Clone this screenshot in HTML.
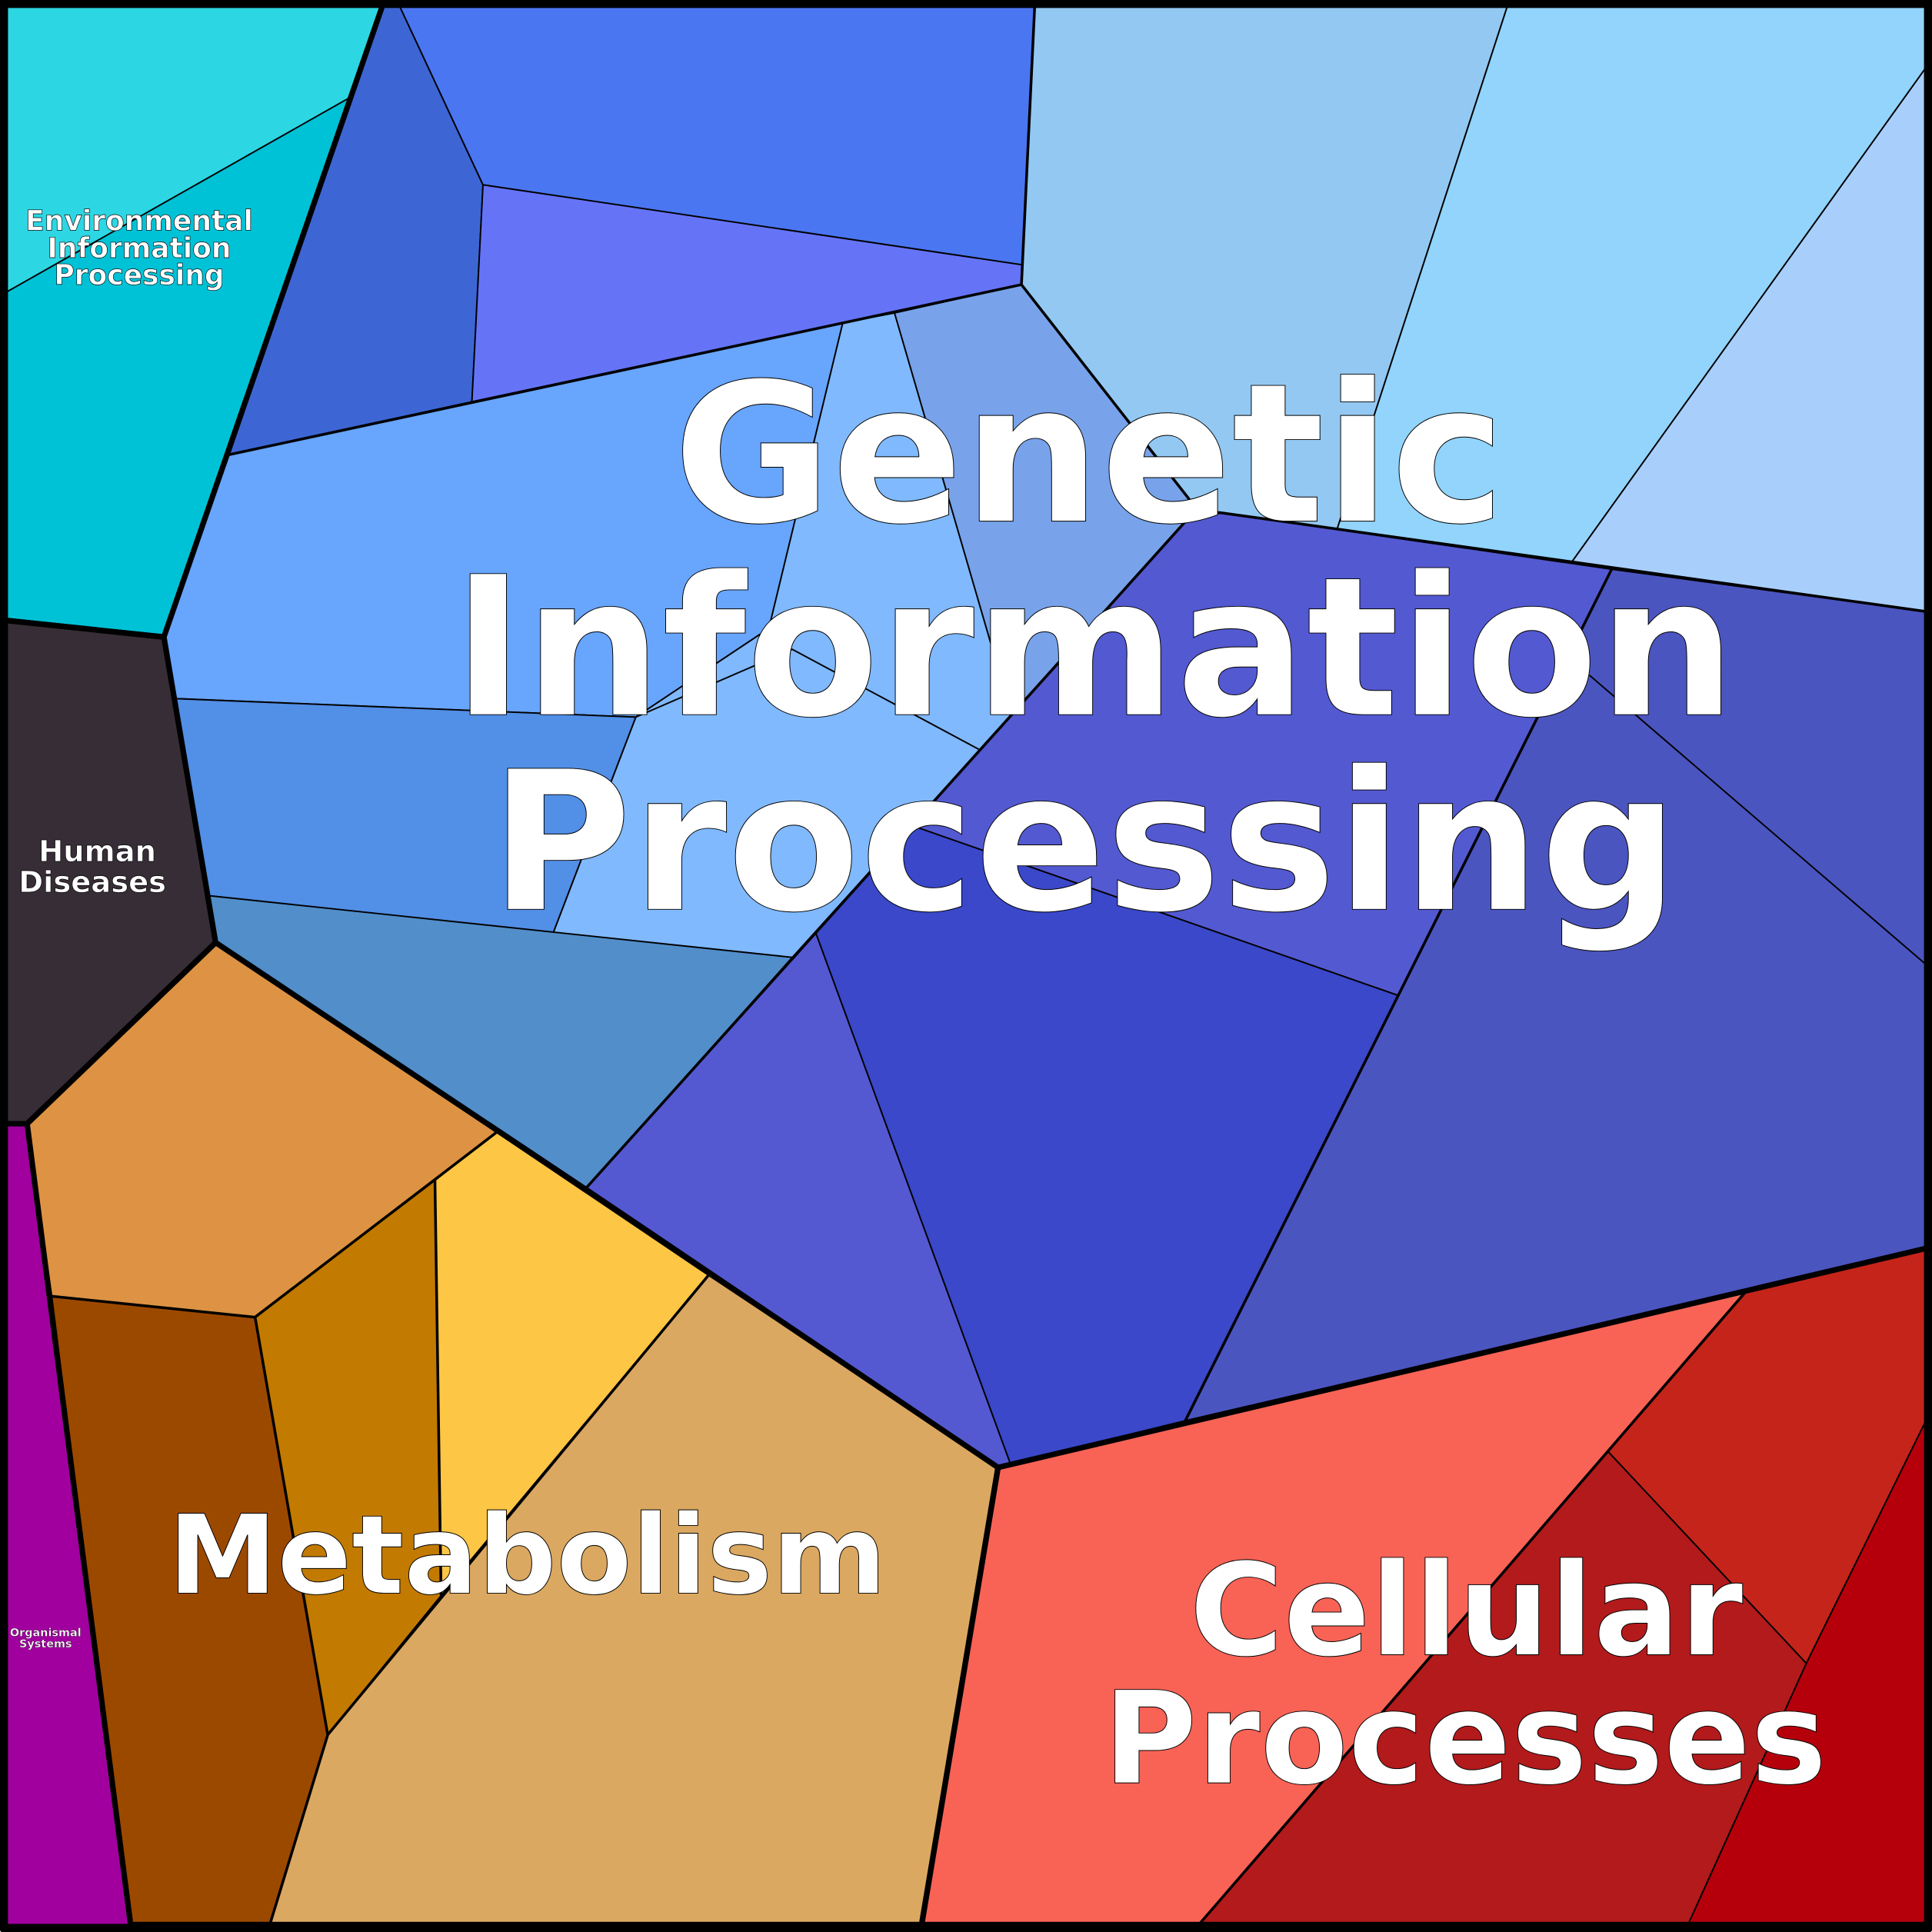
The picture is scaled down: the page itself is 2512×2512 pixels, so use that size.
<!DOCTYPE html>
<html><head><meta charset="utf-8"><style>
html,body{margin:0;padding:0;background:#fff}
svg{display:block}
text{font-family:"DejaVu Sans","Liberation Sans",sans-serif;font-weight:bold;fill:#fff;stroke:#000;text-anchor:middle}
</style></head><body>
<svg width="2512" height="2512" viewBox="0 0 1568 1568" xmlns="http://www.w3.org/2000/svg">
<g stroke="#000" stroke-width="1.2" stroke-linejoin="round">
<polygon fill="#00c2d6" points="0,0 312,0 133,517 0,503"/>
<polygon fill="#2dd6e3" points="0,0 312,0 286,78 0,240"/>
<polygon fill="#3d66d4" points="312,0 322,0 392,150 383,326 186,369"/>
<polygon fill="#4b76f2" points="322,0 840,0 830,215 392,150"/>
<polygon fill="#6574f7" points="392,150 830,215 829,231 383,326"/>
<polygon fill="#68a5fd" points="186,369 684,262 624,510 516,582 143,567 133,517"/>
<polygon fill="#80b9fd" points="684,262 726,254 821,580 643,777 449,757 516,582 624,510"/>
<polygon fill="#78a3ea" points="726,254 829,231 965,405 965,420 821,580"/>
<polygon fill="#528fe6" points="143,567 516,582 449,757 170,727"/>
<polygon fill="#528ec9" points="170,727 643,777 475,965 175,765"/>
<polyline fill="none" points="516,582 643,527 796,609"/>
<polygon fill="#93c8f2" points="840,0 1225,0 1085,430 990,416 965,405 829,231"/>
<polygon fill="#92d4fc" points="1225,0 1568,0 1568,48 1275,457 1085,430"/>
<polygon fill="#a8cffc" points="1568,48 1568,497 1275,457"/>
<polygon fill="#5359d0" points="965,420 990,416 1308,462 1135,808 740,670"/>
<polygon fill="#3a48c9" points="740,670 1135,808 962,1153 820,1188 662,757"/>
<polygon fill="#5459d1" points="662,757 820,1188 810,1191 475,965"/>
<polygon fill="#4b55bf" points="1308,462 1568,497 1568,1012 962,1153 1135,808"/>
<line x1="1290" y1="548" x2="1568" y2="787"/>
<polygon fill="#dd9343" points="22,912 175,765 403,919 207,1069 42,1052"/>
<polygon fill="#9c4900" points="42,1052 207,1069 266,1408 219,1562 106,1562"/>
<polygon fill="#c27a00" points="207,1069 353,958 358,1295 266,1408"/>
<polygon fill="#fec645" points="353,958 403,919 575,1035 358,1295"/>
<polygon fill="#dba861" points="575,1035 810,1191 748,1562 219,1562 266,1408 358,1295"/>
<polygon fill="#372d36" points="0,503 133,517 175,765 22,912 0,912"/>
<polygon fill="#a1009f" points="0,912 22,912 106,1562 0,1562"/>
<polygon fill="#f86356" points="810,1191 1418,1047 973,1562 748,1562"/>
<polygon fill="#c5241b" points="1418,1047 1568,1012 1568,1143 1466,1350 1305,1178"/>
<polygon fill="#b31a1b" points="1305,1178 1466,1350 1370,1562 973,1562"/>
<polygon fill="#b5000c" points="1568,1143 1568,1562 1370,1562 1466,1350"/>
</g>
<g stroke="#000" stroke-width="2.2" fill="none" stroke-linejoin="round">
<polyline points="829,231 965,405 965,420 990,416 1568,497"/>
<polyline points="186,369 829,231 840,0"/>
<polyline points="965,420 475,965"/>
<polyline points="1308,462 962,1153"/>
<polyline points="207,1069 266,1408"/><polyline points="353,958 358,1295"/><polyline points="575,1035 266,1408 219,1562"/>
<polyline points="403,919 207,1069 42,1052"/>
<polyline points="1418,1047 973,1562"/>
</g>
<g stroke="#000" stroke-width="4.5" fill="none" stroke-linejoin="round">
<polygon points="0,0 312,0 133,517 0,503"/>
<polygon points="0,503 133,517 175,765 22,912 0,912"/>
<polygon points="22,912 175,765 475,965 810,1191 748,1562 106,1562"/>
<polygon points="810,1191 1568,1012 1568,1562 748,1562"/>
<rect x="3" y="3" width="1562" height="1562" stroke-width="7"/>
</g>
<g stroke-width="0.6">
<text font-size="157" x="884" y="423">Genetic</text>
<text font-size="157" x="888" y="580">Information</text>
<text font-size="157" x="880" y="738">Processing</text>
<text font-size="89" x="428" y="1293">Metabolism</text>
<text font-size="104" x="1190" y="1343">Cellular</text>
<text font-size="104" x="1189" y="1447">Processes</text>
</g>
<g stroke-width="0.4">
<text font-size="22.5" x="113" y="187">Environmental</text>
<text font-size="22.5" x="113" y="209">Information</text>
<text font-size="22.5" x="113" y="231">Processing</text>
<text font-size="24" x="79" y="699">Human</text>
<text font-size="24" x="75" y="724">Diseases</text>
</g>
<g stroke-width="0.2">
<text font-size="9" x="37" y="1328">Organismal</text>
<text font-size="9" x="37" y="1337">Systems</text>
</g>
</svg>
</body></html>
